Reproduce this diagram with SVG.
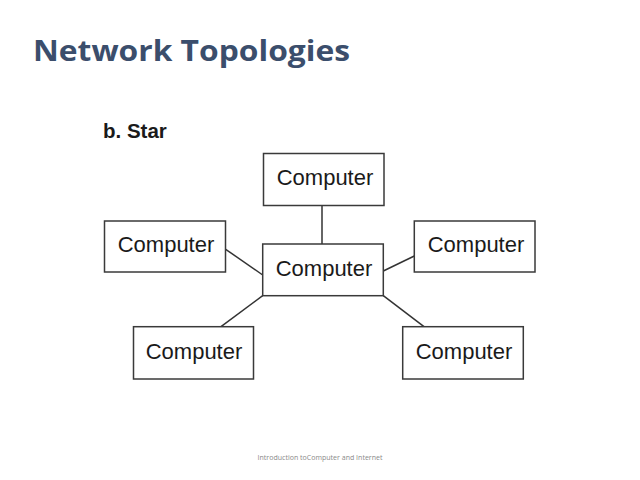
<svg xmlns="http://www.w3.org/2000/svg" width="640" height="480" viewBox="0 0 640 480">
<style>
.box{fill:#fff;stroke:#3a3a3a;stroke-width:1.5}
.lbl{font-family:"Liberation Sans",Arial,sans-serif;font-size:22px;fill:#1a1a1a;text-anchor:middle}
.conn line{stroke:#333;stroke-width:1.5}
</style>
<rect width="640" height="480" fill="#fff"/>
<text x="33" y="61" font-family="'Open Sans','Noto Sans',sans-serif" font-weight="bold" font-size="29" fill="#3b4e6c" textLength="317" lengthAdjust="spacingAndGlyphs">Network Topologies</text>
<text x="103" y="138" font-family="'Liberation Sans',Arial,sans-serif" font-weight="bold" font-size="20.5" fill="#1a1a1a">b. Star</text>
<g id="connectors" class="conn">
<line x1="322" y1="205.5" x2="322" y2="244"/>
<line x1="225.7" y1="249.3" x2="262.7" y2="275"/>
<line x1="383.3" y1="271" x2="414.3" y2="256"/>
<line x1="262.7" y1="295.7" x2="221" y2="326.7"/>
<line x1="383.3" y1="295.7" x2="424" y2="326.7"/>
</g>
<g id="top"><rect class="box" x="263.5" y="153.5" width="120.5" height="52"/><text class="lbl" x="325" y="185">Computer</text></g>
<g id="left"><rect class="box" x="104.5" y="221" width="121" height="51"/><text class="lbl" x="166" y="252">Computer</text></g>
<g id="center"><rect class="box" x="262.7" y="244" width="120.6" height="51.7"/><text class="lbl" x="324" y="275.5">Computer</text></g>
<g id="right"><rect class="box" x="414.3" y="221" width="120.7" height="51"/><text class="lbl" x="476" y="252">Computer</text></g>
<g id="bottomleft"><rect class="box" x="133.5" y="326.7" width="120" height="52.3"/><text class="lbl" x="194" y="358.5">Computer</text></g>
<g id="bottomright"><rect class="box" x="402.7" y="326.7" width="120.6" height="52.3"/><text class="lbl" x="464" y="358.5">Computer</text></g>
<text x="320" y="460" font-family="'Open Sans','Noto Sans',sans-serif" font-size="7" fill="#8a8a8a" text-anchor="middle" textLength="125" lengthAdjust="spacingAndGlyphs">Introduction toComputer and Internet</text>
</svg>
